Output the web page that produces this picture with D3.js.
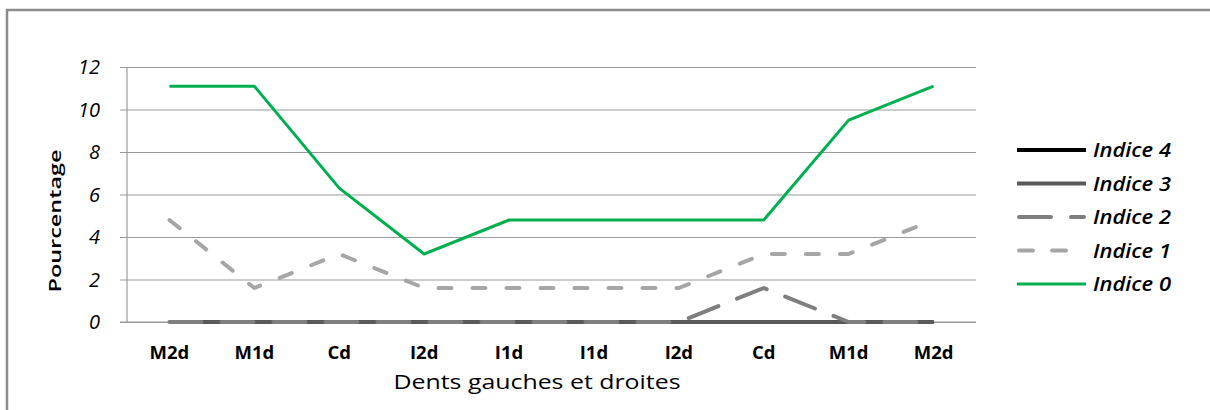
<!DOCTYPE html>
<html>
<head>
<meta charset="utf-8">
<script src="https://cdn.jsdelivr.net/npm/d3@7/dist/d3.min.js"></script>
<style>
  html, body { margin: 0; padding: 0; background: #fff; }
  svg { display: block; }
  text { font-family: "Open Sans", "Liberation Sans", sans-serif; fill: #000; }
</style>
</head>
<body>
<svg id="chart" width="1210" height="410"></svg>
<script>
// Teeth along the arch, left to right
const categories = ["M2d", "M1d", "Cd", "I2d", "I1d", "I1d", "I2d", "Cd", "M1d", "M2d"];

// Percentage of teeth per index score
const indice4 = [0, 0, 0, 0, 0, 0, 0, 0, 0, 0];
const indice3 = [0, 0, 0, 0, 0, 0, 0, 0, 0, 0];
const indice2 = [0, 0, 0, 0, 0, 0, 0, 1.6, 0, 0];
const indice1 = [4.8, 1.6, 3.2, 1.6, 1.6, 1.6, 1.6, 3.2, 3.2, 4.8];
const indice0 = [11.1, 11.1, 6.3, 3.2, 4.8, 4.8, 4.8, 4.8, 9.5, 11.1];

const yTicks = [0, 2, 4, 6, 8, 10, 12];

// Drawing order: first drawn sits underneath
const series = [
  { name: "Indice 4", values: indice4, color: "#000000", width: 4, dash: null },
  { name: "Indice 3", values: indice3, color: "#595959", width: 4, dash: null },
  { name: "Indice 2", values: indice2, color: "#7f7f7f", width: 4, dash: "32,20" },
  { name: "Indice 1", values: indice1, color: "#a6a6a6", width: 4, dash: "13,21" },
  { name: "Indice 0", values: indice0, color: "#00b050", width: 3, dash: null }
];

const svg = d3.select("#chart");
const plot = { left: 127, right: 976, top: 67, bottom: 322 };

// outer frame
svg.append("rect")
  .attr("x", 7).attr("y", 10)
  .attr("width", 1400).attr("height", 600)
  .attr("fill", "none").attr("stroke", "#8c8c8c").attr("stroke-width", 2.5);

const x = d3.scaleBand()
  .domain(d3.range(categories.length))
  .range([plot.left, plot.right])
  .padding(0);
const xc = i => x(i) + x.bandwidth() / 2;

const y = d3.scaleLinear().domain([0, 12]).range([plot.bottom, plot.top]);

// horizontal gridlines with tick stubs
const yAxis = d3.axisLeft(y)
  .tickValues(yTicks)
  .tickSize(-(plot.right - plot.left))
  .tickFormat(d3.format("d"))
  .tickPadding(27);

const gy = svg.append("g")
  .attr("transform", `translate(${plot.left},0)`)
  .call(yAxis);
gy.select(".domain").remove();
gy.selectAll(".tick line")
  .attr("x1", -7)
  .attr("stroke", "#9a9a9a")
  .attr("stroke-width", 1.2);
gy.selectAll(".tick text")
  .attr("font-family", "'Open Sans', sans-serif")
  .attr("font-style", "italic")
  .attr("font-size", 20)
  .attr("fill", "#000")
  .attr("dy", "0.34em");

// vertical axis line
svg.append("line")
  .attr("x1", plot.left).attr("x2", plot.left)
  .attr("y1", plot.top).attr("y2", plot.bottom)
  .attr("stroke", "#9a9a9a").attr("stroke-width", 1.2);

// category axis
const xAxis = d3.axisBottom(x)
  .tickSize(0)
  .tickPadding(24)
  .tickFormat(i => categories[i]);
const gx = svg.append("g")
  .attr("transform", `translate(0,${plot.bottom})`)
  .call(xAxis);
gx.select(".domain").remove();
gx.selectAll(".tick text")
  .attr("font-family", "'Open Sans', sans-serif")
  .attr("font-weight", 700)
  .attr("font-size", 18.5)
  .attr("fill", "#000");

svg.append("line")
  .attr("x1", plot.left - 7).attr("x2", plot.right)
  .attr("y1", plot.bottom).attr("y2", plot.bottom)
  .attr("stroke", "#9a9a9a").attr("stroke-width", 1.2);

// series lines
const line = d3.line()
  .x((d, i) => xc(i))
  .y(d => y(d));

series.forEach(s => {
  svg.append("path")
    .datum(s.values)
    .attr("d", line)
    .attr("fill", "none")
    .attr("stroke", s.color)
    .attr("stroke-width", s.width)
    .attr("stroke-linejoin", "round")
    .attr("stroke-linecap", s.dash ? "round" : "butt")
    .attr("stroke-dasharray", s.dash);
});

// axis titles
svg.append("text")
  .attr("x", 537).attr("y", 389)
  .attr("text-anchor", "middle")
  .attr("font-size", 20)
  .attr("font-weight", 500)
  .attr("textLength", 287)
  .attr("lengthAdjust", "spacingAndGlyphs")
  .text("Dents gauches et droites");

svg.append("text")
  .attr("transform", "translate(61,221) rotate(-90)")
  .attr("text-anchor", "middle")
  .attr("font-size", 17)
  .attr("font-weight", 600)
  .attr("textLength", 143)
  .attr("lengthAdjust", "spacingAndGlyphs")
  .text("Pourcentage");

// legend, first drawn series listed at the top
const legendY = d3.scalePoint()
  .domain(series.map(s => s.name))
  .range([150, 284]);

const legend = svg.append("g");
series.forEach(s => {
  const ly = legendY(s.name);
  legend.append("line")
    .attr("x1", s.dash ? 1019 : 1017).attr("x2", s.dash ? 1084 : 1086)
    .attr("y1", ly).attr("y2", ly)
    .attr("stroke", s.color)
    .attr("stroke-width", s.width)
    .attr("stroke-linecap", s.dash ? "round" : "butt")
    .attr("stroke-dasharray", s.name === "Indice 1" ? "14,19" : s.dash);
  legend.append("text")
    .attr("x", 1093).attr("y", ly)
    .attr("dy", "0.36em")
    .attr("font-size", 20)
    .attr("font-style", "italic")
    .attr("font-weight", 600)
    .attr("textLength", 78)
    .attr("lengthAdjust", "spacingAndGlyphs")
    .text(s.name);
});
</script>
</body>
</html>
